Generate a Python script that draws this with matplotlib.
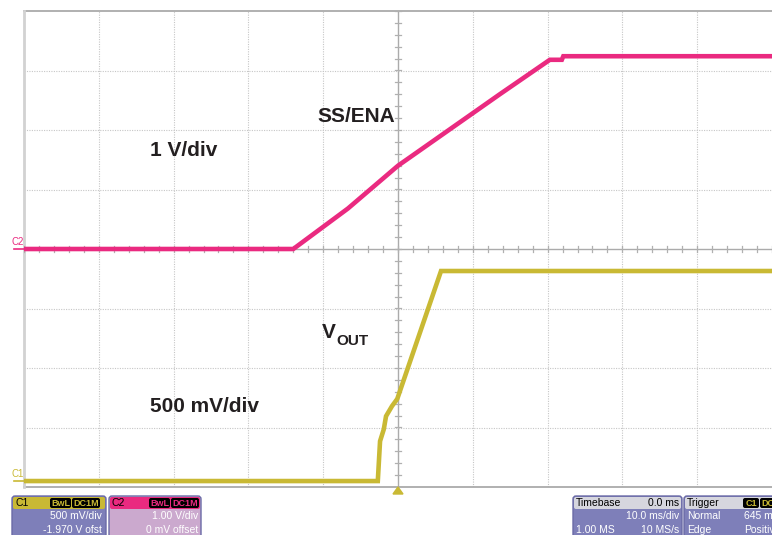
import numpy as np
import matplotlib
matplotlib.use("Agg")
from matplotlib import pyplot as plt
from matplotlib.patches import FancyBboxPatch, Polygon

plt.rcParams['font.family'] = ['Liberation Sans', 'DejaVu Sans']

# scope traces: time in ms (10 ms/div), level in divisions from screen centre
ss_t = [-50, -14.0, -6.7, 0.0, 13.6, 20.3, 21.9, 22.1, 50]
ss_div = [0.0, 0.0, 0.68, 1.40, 2.60, 3.18, 3.18, 3.24, 3.24]

vout_t = [-50, -2.7, -2.4, -1.9, -1.6, -0.8, -0.1, 5.75, 50]
vout_div = [-3.9, -3.9, -3.23, -3.03, -2.81, -2.64, -2.52, -0.37, -0.37]

labels = ["SS/ENA", "1 V/div", "500 mV/div"]

PINK = '#EA2A80'
YEL = '#C9B934'
GRID = '#C6C6C6'

W, H = 772, 535
fig = plt.figure(figsize=(W / 100, H / 100), dpi=100)
fig.patch.set_facecolor('white')

x0, x1, y0, y1 = 24, 772, 11, 487
ax = fig.add_axes([x0 / W, 1 - y1 / H, (x1 - x0) / W, (y1 - y0) / H])
ax.set_xlim(-50, 50)
ax.set_ylim(-4, 4)
ax.axis('off')

# grid
for t in range(-40, 50, 10):
    if t == 0:
        ax.axvline(0, color='#ABABAB', lw=1.0, zorder=1)
    else:
        ax.axvline(t, color=GRID, lw=0.8, ls=(0, (1, 1.2)), zorder=1)
for v in range(-3, 4):
    if v == 0:
        ax.axhline(0, color='#ABABAB', lw=1.0, zorder=1)
    else:
        ax.axhline(v, color=GRID, lw=0.8, ls=(0, (1, 1.2)), zorder=1)
ax.axhline(4, color='#AAAAAA', lw=1.3, zorder=1, clip_on=False)
ax.axhline(-4, color='#AAAAAA', lw=1.3, zorder=1, clip_on=False)
ax.axvline(-50, color='#D2D2D2', lw=2.0, zorder=1, clip_on=False)

# minor ticks on the centre cross
for v in np.arange(-4, 4.01, 0.2):
    ax.plot([-0.4, 0.4], [v, v], color='#B0B0B0', lw=0.9, zorder=1)
for t in np.arange(-50, 50.1, 2):
    ax.plot([t, t], [-0.05, 0.05], color='#B0B0B0', lw=0.9, zorder=1)

# traces
ax.plot(ss_t, ss_div, color=PINK, lw=3.3, solid_joinstyle='miter', zorder=3)
ax.plot(vout_t, vout_div, color=YEL, lw=3.3, solid_joinstyle='miter', zorder=3)

# overlay in pixel coordinates for annotations and scope info boxes
ov = fig.add_axes([0, 0, 1, 1], facecolor='none')
ov.set_xlim(0, W)
ov.set_ylim(H, 0)
ov.axis('off')

ov.text(317, 117, labels[0], fontsize=15, fontweight='bold', color='#231F20', va='center')
ov.text(150, 151, labels[1], fontsize=15, fontweight='bold', color='#231F20', va='center')
ov.text(322, 333, "V", fontsize=15, fontweight='bold', color='#231F20', va='center')
ov.text(336, 341, "OUT", fontsize=11, fontweight='bold', color='#231F20', va='center')
ov.text(150, 406, labels[2], fontsize=15, fontweight='bold', color='#231F20', va='center')

# channel markers at left
ov.text(11, 242, "C2", fontsize=7, color=PINK, va='center')
ov.plot([14, 24], [249, 249], color=PINK, lw=1.2)
ov.text(11, 474, "C1", fontsize=7, color=YEL, va='center')
ov.plot([14, 24], [481, 481], color=YEL, lw=1.2)

# trigger marker
ov.add_patch(Polygon([[393, 494], [403, 494], [398, 487]], closed=True, color=YEL))


def info_box(x, w, head_col, body_col, head_txt, head_right, tags, tag_col, rows):
    top = 496
    ov.add_patch(FancyBboxPatch((x, top), w, 45, boxstyle='round,pad=0,rounding_size=3',
                                fc=body_col, ec='#6A6AA6', lw=1.0, clip_on=False))
    ov.add_patch(FancyBboxPatch((x + 1, top + 1), w - 2, 12, boxstyle='round,pad=0,rounding_size=2',
                                fc=head_col, ec='none', clip_on=False))
    ov.text(x + 3, top + 7, head_txt, fontsize=7.5, color='black', va='center')
    if head_right:
        ov.text(x + w - 3, top + 7, head_right, fontsize=7.5, color='black', va='center', ha='right')
    for tx, tw, tt in tags:
        ov.add_patch(FancyBboxPatch((tx, top + 2), tw, 10, boxstyle='round,pad=0,rounding_size=2',
                                    fc='black', ec='none', clip_on=False))
        ov.text(tx + tw / 2, top + 7, tt, fontsize=6.5, color=tag_col, va='center', ha='center',
                fontweight='bold')
    for rx, ry, rt, ha in rows:
        ov.text(rx, ry, rt, fontsize=7.5, color='white', va='center', ha=ha)


info_box(12, 94, YEL, '#7E7FB9', "C1", None,
         [(50, 21, "BwL"), (72, 28, "DC1M")], YEL,
         [(102, 516, "500 mV/div", 'right'), (102, 530, "-1.970 V ofst", 'right')])
info_box(109, 92, PINK, '#CBA9CE', "C2", None,
         [(149, 21, "BwL"), (171, 28, "DC1M")], PINK,
         [(198, 516, "1.00 V/div", 'right'), (198, 530, "0 mV offset", 'right')])
info_box(573, 109, '#D6D6DE', '#7E7FB9', "Timebase", "0.0 ms", [], 'white',
         [(679, 516, "10.0 ms/div", 'right'), (576, 530, "1.00 MS", 'left'),
          (679, 530, "10 MS/s", 'right')])
info_box(684, 100, '#D6D6DE', '#7E7FB9', "Trigger", None,
         [(743, 16, "C1"), (760, 16, "DC")], YEL,
         [(687, 516, "Normal", 'left'), (744, 516, "645 mV", 'left'),
          (687, 530, "Edge", 'left'), (744, 530, "Positive", 'left')])

fig.savefig('out.png', dpi=100)
